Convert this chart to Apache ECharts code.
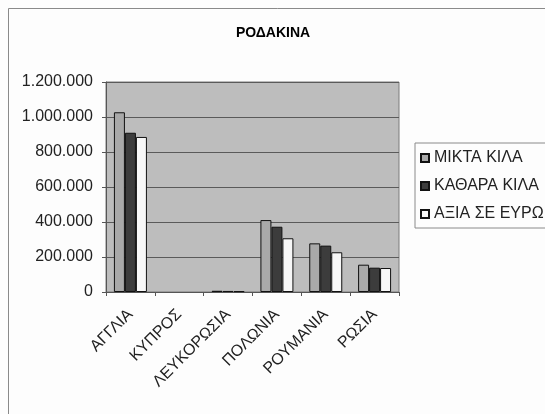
<!DOCTYPE html>
<html>
<head>
<meta charset="utf-8">
<script src="https://cdn.jsdelivr.net/npm/echarts@6/dist/echarts.min.js"></script>
<style>
html,body{margin:0;padding:0;background:#fdfdfd;}
#c{width:545px;height:414px;}
</style>
</head>
<body>
<div id="c"></div>
<script>
const titleText = 'ΡΟΔΑΚΙΝΑ';
const categories = ['ΑΓΓΛΙΑ', 'ΚΥΠΡΟΣ', 'ΛΕΥΚΟΡΩΣΙΑ', 'ΠΟΛΩΝΙΑ', 'ΡΟΥΜΑΝΙΑ', 'ΡΩΣΙΑ'];
const seriesNames = ['ΜΙΚΤΑ ΚΙΛΑ', 'ΚΑΘΑΡΑ ΚΙΛΑ', 'ΑΞΙΑ ΣΕ ΕΥΡΩ'];
const miktaKila = [1027000, null, 7000, 411000, 278000, 156000];
const katharaKila = [910000, null, 6000, 373000, 265000, 139000];
const aksiaEyro = [886000, null, 5000, 307000, 227000, 137000];
const yTicks = [0, 200000, 400000, 600000, 800000, 1000000, 1200000];
const seriesColors = ['#a9a9a9', '#3c3c3c', '#f7f7f7'];

function fmt(v) {
  return String(v).replace(/\B(?=(\d{3})+(?!\d))/g, '.');
}

const chart = echarts.init(document.getElementById('c'));
const font = '"Liberation Sans", Arial, sans-serif';
const dataSets = [miktaKila, katharaKila, aksiaEyro];

chart.setOption({
  backgroundColor: '#fdfdfd',
  animation: false,
  graphic: [{
    type: 'rect',
    shape: { x: 8.5, y: 8.5, width: 600, height: 500 },
    style: { fill: 'none', stroke: '#8a8a8a', lineWidth: 1 },
    silent: true,
    z: -1
  }],
  title: {
    text: titleText,
    left: 268,
    textAlign: 'center',
    top: 21,
    textStyle: { fontFamily: font, fontWeight: 'bolder', fontSize: 14, color: '#000' }
  },
  legend: {
    orient: 'vertical',
    left: 415,
    top: 143,
    padding: [7, 60, 6, 5],
    itemWidth: 8,
    itemHeight: 8,
    itemGap: 12,
    itemTextGap: 5,
    borderColor: '#8a8a8a',
    borderWidth: 1,
    backgroundColor: '#fdfdfd',
    icon: 'rect',
    textStyle: { fontFamily: font, fontSize: 16, color: '#222', lineHeight: 16 },
    data: seriesNames
  },
  grid: {
    left: 106,
    right: 146,
    top: 82,
    bottom: 122,
    show: true,
    backgroundColor: '#bdbdbd',
    borderColor: '#7a7a7a',
    borderWidth: 1
  },
  xAxis: {
    type: 'category',
    data: categories,
    axisLine: { lineStyle: { color: '#555', width: 1 } },
    axisTick: { show: true, alignWithLabel: false, length: 4, lineStyle: { color: '#555' } },
    axisLabel: {
      rotate: 45,
      interval: 0,
      margin: 20,
      fontFamily: font,
      fontSize: 16,
      color: '#222'
    }
  },
  yAxis: {
    type: 'value',
    min: yTicks[0],
    max: yTicks[yTicks.length - 1],
    interval: yTicks[1] - yTicks[0],
    axisLine: { show: true, lineStyle: { color: '#555', width: 1 } },
    axisTick: { show: true, length: 4, lineStyle: { color: '#555' } },
    splitLine: { lineStyle: { color: '#5a5a5a', width: 1 } },
    axisLabel: {
      margin: 13,
      fontFamily: font,
      fontSize: 16,
      color: '#222',
      formatter: fmt
    }
  },
  series: seriesNames.map((name, i) => ({
    name: name,
    type: 'bar',
    data: dataSets[i],
    barWidth: 11,
    barGap: '0%',
    itemStyle: { color: seriesColors[i], borderColor: '#111', borderWidth: 1 }
  }))
});
</script>
</body>
</html>
